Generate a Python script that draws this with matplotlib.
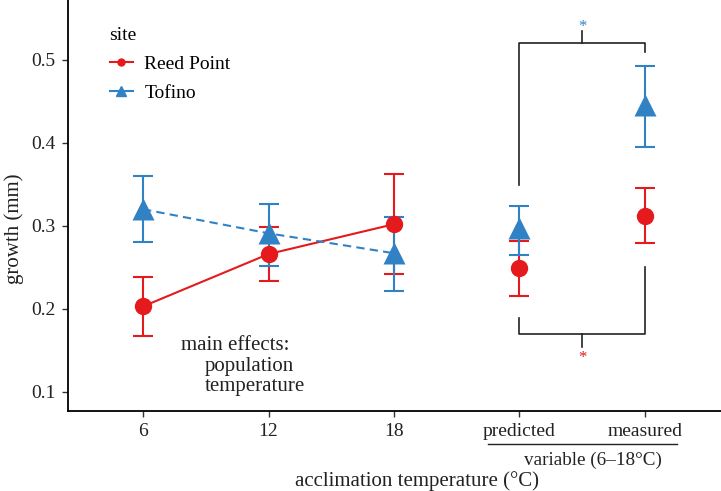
import matplotlib.pyplot as plt
from matplotlib.lines import Line2D

plt.rcParams['font.family'] = ['Liberation Serif', 'DejaVu Serif']

# x positions: 6, 12, 18, predicted, measured
tick_labels = ['6', '12', '18', 'predicted', 'measured']
xpos = [1, 2, 3, 4, 5]

reed_mean = [0.203, 0.266, 0.302, 0.249, 0.312]
reed_low = [0.167, 0.233, 0.242, 0.216, 0.279]
reed_high = [0.238, 0.299, 0.362, 0.282, 0.346]

tof_mean = [0.320, 0.291, 0.267, 0.297, 0.445]
tof_low = [0.280, 0.252, 0.221, 0.265, 0.395]
tof_high = [0.360, 0.326, 0.311, 0.324, 0.492]

RED = '#E41A1C'
BLUE = '#3182C4'

fig = plt.figure(figsize=(7.21, 4.91), dpi=100)
ax = fig.add_axes([68 / 721, 80 / 491, 653 / 721, 411 / 491])

# error bars first
for mean, low, high, col in [(reed_mean, reed_low, reed_high, RED),
                             (tof_mean, tof_low, tof_high, BLUE)]:
    yerr = [[m - l for m, l in zip(mean, low)],
            [h - m for m, h in zip(mean, high)]]
    ax.errorbar(xpos, mean, yerr=yerr, fmt='none', ecolor=col,
                elinewidth=1.5, capsize=7, capthick=1.5, zorder=2)

# lines for the constant temperatures
ax.plot(xpos[:3], reed_mean[:3], color=RED, lw=1.5, zorder=3)
ax.plot(xpos[:3], tof_mean[:3], color=BLUE, lw=1.5, ls=(0, (4, 2.5)),
        zorder=3)

# points
ax.plot(xpos, reed_mean, 'o', color=RED, ms=12.5, mec='none', zorder=4)
ax.plot(xpos, tof_mean, '^', color=BLUE, ms=16, mec='none', zorder=5)

# significance brackets
ax.plot([4, 4, 5, 5], [0.349, 0.520, 0.520, 0.509], color='#222222',
        lw=1.2, zorder=1)
ax.plot([4.5, 4.5], [0.520, 0.535], color='#222222', lw=1.2)
ax.text(4.5, 0.539, '*', color=BLUE, ha='center', va='center', fontsize=12)

ax.plot([4, 4, 5, 5], [0.1895, 0.1695, 0.1695, 0.250], color='#222222',
        lw=1.2, zorder=1)
ax.plot([4.5, 4.5], [0.1695, 0.1545], color='#222222', lw=1.2)
ax.text(4.5, 0.141, '*', color=RED, ha='center', va='center', fontsize=12)

ax.text(1.3, 0.1554, 'main effects:', fontsize=15, ha='left', va='center',
        color='#222222')
ax.text(1.494, 0.130, 'population', fontsize=15, ha='left', va='center',
        color='#222222')
ax.text(1.494, 0.106, 'temperature', fontsize=15, ha='left', va='center',
        color='#222222')

ax.set_xlim(0.402, 5.606)
ax.set_ylim(0.077, 0.572)
ax.set_xticks(xpos)
ax.set_xticklabels(tick_labels)
ax.set_yticks([0.1, 0.2, 0.3, 0.4, 0.5])
ax.set_yticklabels(['0.1', '0.2', '0.3', '0.4', '0.5'])
ax.tick_params(labelsize=14, length=4, width=1, color='#333333',
               labelcolor='#222222', pad=5)
for side in ['top', 'right']:
    ax.spines[side].set_visible(False)
for side in ['left', 'bottom']:
    ax.spines[side].set_linewidth(1.3)

# group label under predicted/measured
fig.add_artist(Line2D([488 / 721, 677 / 721], [1 - 444 / 491, 1 - 444 / 491],
                      color='#222222', lw=1))
fig.text(593 / 721, 1 - 460 / 491, 'variable (6–18°C)', fontsize=13.8,
         ha='center', va='center', color='#222222')
fig.text(417 / 721, 1 - 481 / 491, 'acclimation temperature (°C)',
         fontsize=15, ha='center', va='center', color='#222222')
fig.text(14 / 721, 1 - 229 / 491, 'growth (mm)', fontsize=15, rotation=90,
         ha='center', va='center', color='#222222')

handles = [Line2D([], [], color=RED, marker='o', ms=5, lw=1.5),
           Line2D([], [], color=BLUE, marker='^', ms=7, lw=1.5)]
leg = ax.legend(handles, ['Reed Point', 'Tofino'], title='site',
                loc='upper left', bbox_to_anchor=(92 / 721, 1 - 9 / 491),
                bbox_transform=fig.transFigure, frameon=False, fontsize=14,
                title_fontsize=14, alignment='left', handlelength=1.2,
                handletextpad=0.6, labelspacing=0.6)

fig.savefig('out.png', dpi=100)
